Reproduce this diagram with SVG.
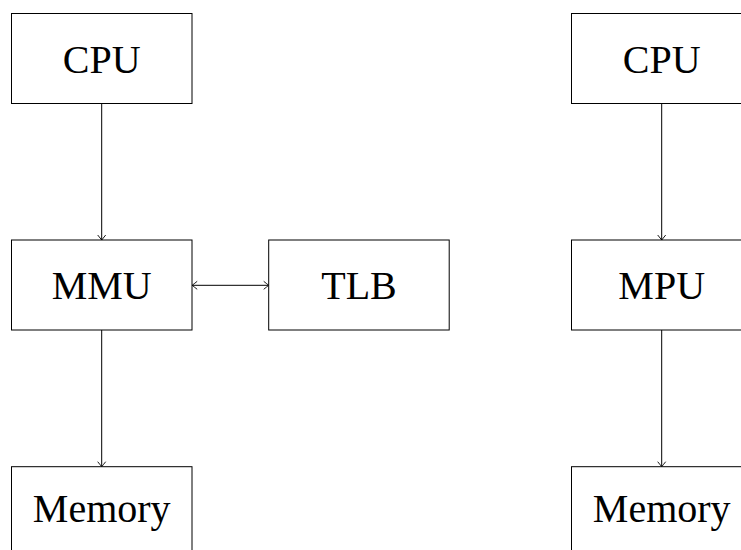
<svg xmlns="http://www.w3.org/2000/svg" width="741" height="550" viewBox="0 0 741 550">
<style>
.box{fill:#fff;stroke:#000;stroke-width:1}
.lbl{font-family:"Liberation Serif","Times New Roman",serif;font-size:40px;fill:#000;text-anchor:middle}
.con{stroke:#000;stroke-width:1;fill:none}
</style>
<defs>
<marker id="ah" markerUnits="userSpaceOnUse" markerWidth="12" markerHeight="12" viewBox="-7 -6 8 12" refX="0" refY="0" orient="auto-start-reverse">
<path d="M-5,-4 Q-1.5,-1.2 0,0 Q-1.5,1.2 -5,4" fill="none" stroke="#000" stroke-width="0.9"/>
</marker>
</defs>
<rect width="741" height="550" fill="#fff"/>
<g id="connectors">
<line class="con" x1="101.7" y1="103.5" x2="101.7" y2="240" marker-end="url(#ah)"/>
<line class="con" x1="101.7" y1="330" x2="101.7" y2="466.7" marker-end="url(#ah)"/>
<line class="con" x1="192.2" y1="285.3" x2="268.7" y2="285.3" marker-start="url(#ah)" marker-end="url(#ah)"/>
<line class="con" x1="661.7" y1="103.5" x2="661.7" y2="240" marker-end="url(#ah)"/>
<line class="con" x1="661.7" y1="330" x2="661.7" y2="466.7" marker-end="url(#ah)"/>
</g>
<g id="cpu1"><rect class="box" x="11.5" y="13.5" width="180.5" height="90"/><text class="lbl" x="101.7" y="72.7">CPU</text></g>
<g id="mmu"><rect class="box" x="11.5" y="240" width="180.5" height="90"/><text class="lbl" x="101.7" y="299">MMU</text></g>
<g id="tlb"><rect class="box" x="268.7" y="240" width="180.5" height="90"/><text class="lbl" x="359" y="299">TLB</text></g>
<g id="memory1"><rect class="box" x="11.5" y="466.7" width="180.5" height="90"/><text class="lbl" x="101.7" y="521.7">Memory</text></g>
<g id="cpu2"><rect class="box" x="571.5" y="13.5" width="180.5" height="90"/><text class="lbl" x="661.7" y="72.7">CPU</text></g>
<g id="mpu"><rect class="box" x="571.5" y="240" width="180.5" height="90"/><text class="lbl" x="661.7" y="299">MPU</text></g>
<g id="memory2"><rect class="box" x="571.5" y="466.7" width="180.5" height="90"/><text class="lbl" x="661.7" y="521.7">Memory</text></g>
</svg>
